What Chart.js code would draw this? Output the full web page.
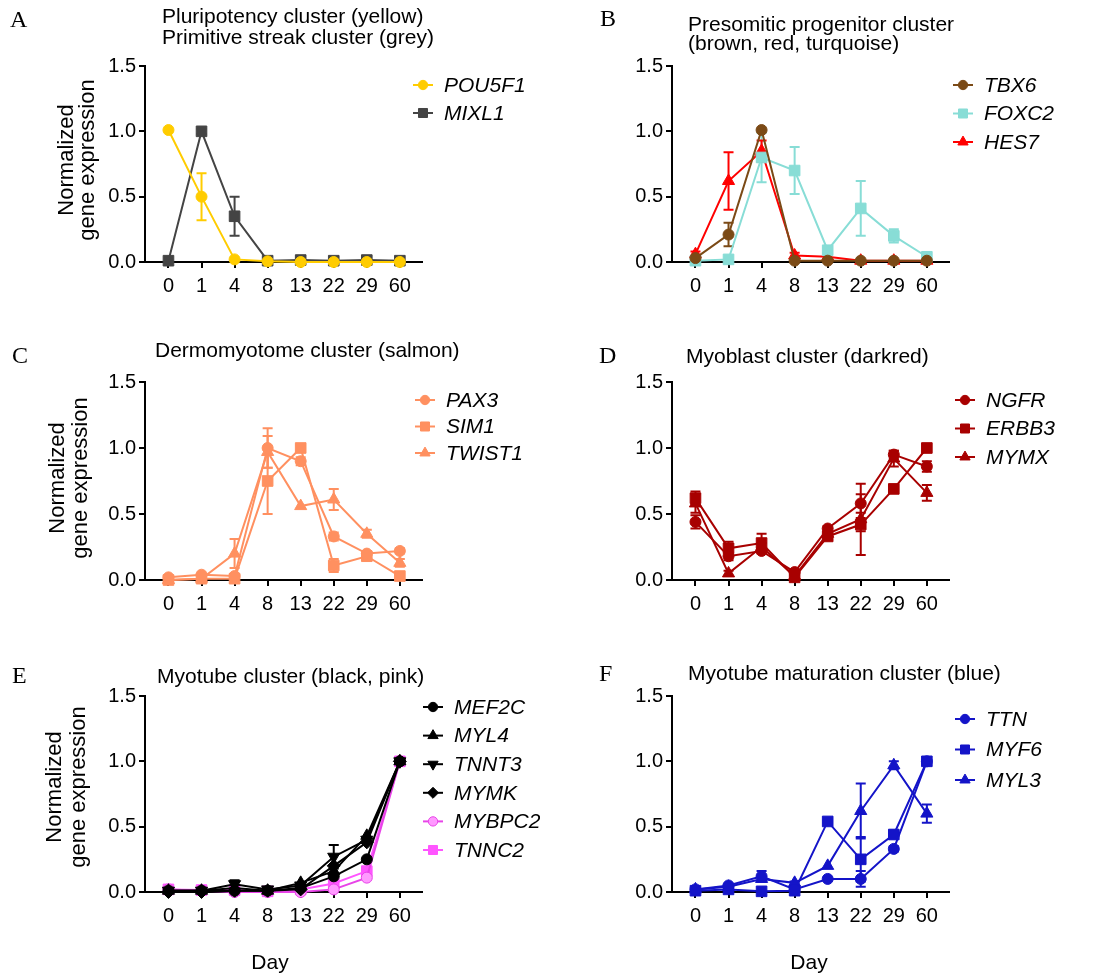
<!DOCTYPE html>
<html>
<head>
<meta charset="utf-8">
<script src="https://cdn.jsdelivr.net/npm/chart.js@4.4.1/dist/chart.umd.min.js"></script>
<style>
  body { margin: 0; background: #fff; }
  canvas { position: absolute; }
</style>
</head>
<body>
<canvas id="pA"></canvas>
<canvas id="pB"></canvas>
<canvas id="pC"></canvas>
<canvas id="pD"></canvas>
<canvas id="pE"></canvas>
<canvas id="pF"></canvas>
<script>
// x categories (day) and y ticks
const days = ['0', '1', '4', '8', '13', '22', '29', '60'];
const yTicks = [0, 0.5, 1.0, 1.5];

// A - pluripotency / primitive streak
const pou5f1 = [1.01, 0.50, 0.02, 0.005, 0.0, 0.0, 0.0, 0.0];
const pou5f1Err = [0, 0.18, 0, 0, 0, 0, 0, 0];
const mixl1 = [0.01, 1.0, 0.35, 0.01, 0.015, 0.01, 0.015, 0.01];
const mixl1Err = [0, 0.02, 0.15, 0, 0, 0, 0, 0];

// B - presomitic progenitor
const tbx6 = [0.03, 0.21, 1.01, 0.01, 0.01, 0.01, 0.01, 0.01];
const tbx6Err = [0, 0.09, 0, 0, 0, 0, 0, 0];
const foxc2 = [0.01, 0.02, 0.80, 0.70, 0.09, 0.41, 0.20, 0.04];
const foxc2Err = [0, 0, 0.19, 0.18, 0.02, 0.21, 0.05, 0.02];
const hes7 = [0.06, 0.62, 0.85, 0.05, 0.04, 0.01, 0.01, 0.01];
const hes7Err = [0.02, 0.22, 0.08, 0.02, 0, 0, 0, 0];

// C - dermomyotome
const pax3 = [0.02, 0.04, 0.03, 1.0, 0.90, 0.33, 0.20, 0.22];
const pax3Err = [0, 0, 0, 0.15, 0.03, 0.03, 0.02, 0.02];
const sim1 = [0.0, 0.01, 0.01, 0.75, 1.0, 0.11, 0.18, 0.03];
const sim1Err = [0, 0, 0, 0.25, 0.02, 0.05, 0.03, 0.02];
const twist1 = [0.0, 0.01, 0.20, 0.97, 0.56, 0.61, 0.35, 0.13];
const twist1Err = [0, 0, 0.11, 0.12, 0, 0.08, 0.03, 0.03];

// D - myoblast
const ngfr = [0.44, 0.18, 0.22, 0.06, 0.39, 0.58, 0.95, 0.86];
const ngfrErr = [0.05, 0.03, 0.02, 0.02, 0.02, 0.07, 0.03, 0.04];
const erbb3 = [0.62, 0.24, 0.28, 0.02, 0.33, 0.42, 0.69, 1.0];
const erbb3Err = [0.05, 0.05, 0.07, 0.02, 0.02, 0.05, 0.02, 0.01];
const mymx = [0.58, 0.05, 0.25, 0.03, 0.35, 0.46, 0.92, 0.66];
const mymxErr = [0.07, 0.02, 0.03, 0.02, 0.02, 0.27, 0.06, 0.06];

// E - myotube
const mef2c = [0.01, 0.01, 0.01, 0.01, 0.03, 0.12, 0.25, 1.0];
const myl4 = [0.01, 0.01, 0.03, 0.01, 0.07, 0.16, 0.43, 1.0];
const tnnt3 = [0.01, 0.01, 0.06, 0.02, 0.05, 0.27, 0.40, 1.0];
const tnnt3Err = [0, 0, 0.03, 0, 0.01, 0.09, 0.02, 0];
const mymk = [0.0, 0.0, 0.01, 0.01, 0.02, 0.20, 0.38, 1.0];
const mybpc2 = [0.02, 0.01, 0.0, 0.0, 0.0, 0.02, 0.11, 1.0];
const tnnc2 = [0.02, 0.015, 0.015, 0.005, 0.02, 0.065, 0.16, 1.0];

// F - myotube maturation
const ttn = [0.02, 0.05, 0.12, 0.02, 0.10, 0.10, 0.33, 1.0];
const ttnErr = [0, 0.01, 0.04, 0, 0, 0.06, 0.02, 0];
const myf6 = [0.01, 0.02, 0.005, 0.01, 0.54, 0.25, 0.44, 1.0];
const myf6Err = [0, 0, 0, 0, 0.01, 0.17, 0.03, 0];
const myl3 = [0.02, 0.04, 0.10, 0.07, 0.20, 0.62, 0.97, 0.60];
const myl3Err = [0, 0, 0.02, 0.01, 0, 0.21, 0.03, 0.07];

const SANS = '"Liberation Sans", Arial, sans-serif';
const SERIF = '"Liberation Serif", "Times New Roman", serif';
const YW = 60, XH = 40;
const markerSize = { circle: 5.5, rect: 7.5, triangle: 7, rectRot: 6.5 };

const panels = [
  { id: 'pA', box: [0, 0, 540, 320], plot: [145, 422, 66, 262],
    letter: ['A', 10, 21], title: ['Pluripotency cluster (yellow)', 'Primitive streak cluster (grey)'],
    titleAt: [162, 17, 21], yTitle: [67, 88, 160], legendAt: [423, 85, 28],
    series: [
      { label: 'POU5F1', values: pou5f1, err: pou5f1Err, color: '#FFCC00', style: 'circle' },
      { label: 'MIXL1', values: mixl1, err: mixl1Err, color: '#444444', style: 'rect' }
    ] },
  { id: 'pB', box: [540, 0, 555, 320], plot: [672, 949, 66, 262],
    letter: ['B', 600, 20], title: ['Presomitic progenitor cluster', '(brown, red, turquoise)'],
    titleAt: [688, 25, 19], legendAt: [963, 85, 28.5],
    series: [
      { label: 'TBX6', values: tbx6, err: tbx6Err, color: '#7B4A16', style: 'circle' },
      { label: 'FOXC2', values: foxc2, err: foxc2Err, color: '#88DDD6', style: 'rect' },
      { label: 'HES7', values: hes7, err: hes7Err, color: '#FF0000', style: 'triangle' }
    ] },
  { id: 'pC', box: [0, 320, 540, 310], plot: [145, 422, 382, 580],
    letter: ['C', 12, 357], title: ['Dermomyotome cluster (salmon)'],
    titleAt: [155, 351, 20], yTitle: [58, 81, 478], legendAt: [425, 400, 26.5],
    series: [
      { label: 'PAX3', values: pax3, err: pax3Err, color: '#FF9060', style: 'circle' },
      { label: 'SIM1', values: sim1, err: sim1Err, color: '#FF9060', style: 'rect' },
      { label: 'TWIST1', values: twist1, err: twist1Err, color: '#FF9060', style: 'triangle' }
    ] },
  { id: 'pD', box: [540, 320, 555, 310], plot: [672, 949, 382, 580],
    letter: ['D', 599, 357], title: ['Myoblast cluster (darkred)'],
    titleAt: [686, 357, 20], legendAt: [965, 400, 28.5],
    series: [
      { label: 'NGFR', values: ngfr, err: ngfrErr, color: '#A80000', style: 'circle' },
      { label: 'ERBB3', values: erbb3, err: erbb3Err, color: '#A80000', style: 'rect' },
      { label: 'MYMX', values: mymx, err: mymxErr, color: '#A80000', style: 'triangle' }
    ] },
  { id: 'pE', box: [0, 630, 540, 346], plot: [145, 422, 696, 892],
    letter: ['E', 12, 677], title: ['Myotube cluster (black, pink)'],
    titleAt: [157, 677, 20], yTitle: [55, 79, 787], legendAt: [433, 707, 28.6], dayAt: [270, 963],
    series: [
      { label: 'MEF2C', values: mef2c, color: '#000000', style: 'circle' },
      { label: 'MYL4', values: myl4, color: '#000000', style: 'triangle' },
      { label: 'TNNT3', values: tnnt3, err: tnnt3Err, color: '#000000', style: 'triangle', rotation: 180 },
      { label: 'MYMK', values: mymk, color: '#000000', style: 'rectRot' },
      { label: 'MYBPC2', values: mybpc2, color: '#E844E8', fill: '#FF99FF', style: 'circle' },
      { label: 'TNNC2', values: tnnc2, color: '#FF55FF', style: 'rect' }
    ] },
  { id: 'pF', box: [540, 630, 555, 346], plot: [672, 949, 696, 892],
    letter: ['F', 599, 675], title: ['Myotube maturation cluster (blue)'],
    titleAt: [688, 674, 20], legendAt: [965, 719, 30.5], dayAt: [809, 963],
    series: [
      { label: 'TTN', values: ttn, err: ttnErr, color: '#1414C8', style: 'circle' },
      { label: 'MYF6', values: myf6, err: myf6Err, color: '#1414C8', style: 'rect' },
      { label: 'MYL3', values: myl3, err: myl3Err, color: '#1414C8', style: 'triangle' }
    ] }
];

function decorPlugin(p) {
  const ox = p.box[0], oy = p.box[1];
  return {
    id: 'decor',
    beforeDatasetsDraw(chart) {
      const ctx = chart.ctx, xs = chart.scales.x, ys = chart.scales.y;
      ctx.save();
      ctx.lineWidth = 2;
      p.series.forEach(s => {
        if (!s.err) return;
        ctx.strokeStyle = s.color;
        s.values.forEach((v, i) => {
          const e = s.err[i];
          if (!e) return;
          const x = xs.getPixelForValue(i);
          const yTop = ys.getPixelForValue(v + e);
          const yBot = ys.getPixelForValue(Math.max(v - e, 0));
          ctx.beginPath();
          ctx.moveTo(x, yTop); ctx.lineTo(x, yBot);
          ctx.moveTo(x - 5, yTop); ctx.lineTo(x + 5, yTop);
          ctx.moveTo(x - 5, yBot); ctx.lineTo(x + 5, yBot);
          ctx.stroke();
        });
      });
      ctx.restore();
    },
    afterDraw(chart) {
      const ctx = chart.ctx;
      ctx.save();
      ctx.fillStyle = '#000';
      ctx.textBaseline = 'middle';
      // panel letter
      ctx.font = '24px ' + SERIF;
      ctx.textAlign = 'left';
      ctx.fillText(p.letter[0], p.letter[1] - ox, p.letter[2] - oy);
      // title lines
      ctx.font = '21px ' + SANS;
      p.title.forEach((t, k) => ctx.fillText(t, p.titleAt[0] - ox, p.titleAt[1] + k * p.titleAt[2] - oy));
      // y axis title
      if (p.yTitle) {
        ctx.save();
        ctx.textAlign = 'center';
        ctx.font = '22px ' + SANS;
        ctx.translate(0, p.yTitle[2] - oy);
        ctx.rotate(-Math.PI / 2);
        ctx.fillText('Normalized', 0, p.yTitle[0] - ox);
        ctx.fillText('gene expression', 0, p.yTitle[1] - ox);
        ctx.restore();
      }
      // x axis title
      if (p.dayAt) {
        ctx.textAlign = 'center';
        ctx.font = '21px ' + SANS;
        ctx.fillText('Day', p.dayAt[0] - ox, p.dayAt[1] - oy);
      }
      // legend
      const [lx, ly, lh] = p.legendAt;
      p.series.forEach((s, k) => {
        const x = lx - ox, y = ly + k * lh - oy;
        ctx.strokeStyle = s.color;
        ctx.lineWidth = 2;
        ctx.beginPath();
        ctx.moveTo(x - 10, y); ctx.lineTo(x + 10, y);
        ctx.stroke();
        ctx.fillStyle = s.fill || s.color;
        ctx.lineWidth = 1;
        Chart.helpers.drawPoint(ctx, {
          pointStyle: s.style, radius: markerSize[s.style] * 0.85,
          rotation: s.rotation || 0, borderWidth: 1
        }, x, y);
        ctx.fillStyle = '#000';
        ctx.textAlign = 'left';
        ctx.font = 'italic 21px ' + SANS;
        ctx.fillText(s.label, x + 21, y + 1);
      });
      ctx.restore();
    }
  };
}

function axisGrid() {
  return { drawOnChartArea: false, drawTicks: true, tickLength: 6, color: '#000', lineWidth: 2 };
}

panels.forEach(p => {
  const [bx, by, bw, bh] = p.box;
  const [pl, pr, pt, pb] = p.plot;
  const canvas = document.getElementById(p.id);
  canvas.width = bw; canvas.height = bh;
  canvas.style.left = bx + 'px'; canvas.style.top = by + 'px';

  new Chart(canvas, {
    type: 'line',
    data: {
      datasets: p.series.map(s => ({
        label: s.label,
        data: s.values.map((v, i) => ({ x: i, y: v })),
        borderColor: s.color,
        backgroundColor: s.fill || s.color,
        pointBackgroundColor: s.fill || s.color,
        pointBorderColor: s.color,
        borderWidth: 2,
        pointBorderWidth: 1,
        pointStyle: s.style,
        pointRotation: s.rotation || 0,
        pointRadius: markerSize[s.style],
        tension: 0,
        clip: false
      }))
    },
    options: {
      responsive: false,
      animation: false,
      events: [],
      layout: { padding: { left: pl - bx - YW, right: bx + bw - pr, top: pt - by, bottom: by + bh - pb - XH } },
      plugins: { legend: { display: false }, title: { display: false }, tooltip: { enabled: false } },
      scales: {
        x: {
          type: 'linear', min: -0.71, max: 7.67,
          afterBuildTicks: s => { s.ticks = days.map((d, i) => ({ value: i })); },
          afterFit: s => { s.height = XH; },
          ticks: { callback: v => days[v], autoSkip: false, maxRotation: 0, padding: 6,
                   color: '#000', font: { family: SANS, size: 20 } },
          grid: axisGrid(),
          border: { color: '#000', width: 2 }
        },
        y: {
          min: 0, max: 1.5,
          afterBuildTicks: s => { s.ticks = yTicks.map(v => ({ value: v })); },
          afterFit: s => { s.width = YW; },
          ticks: { callback: v => v.toFixed(1), autoSkip: false, padding: 3,
                   color: '#000', font: { family: SANS, size: 20 } },
          grid: axisGrid(),
          border: { color: '#000', width: 2 }
        }
      }
    },
    plugins: [decorPlugin(p)]
  });
});
</script>
</body>
</html>
